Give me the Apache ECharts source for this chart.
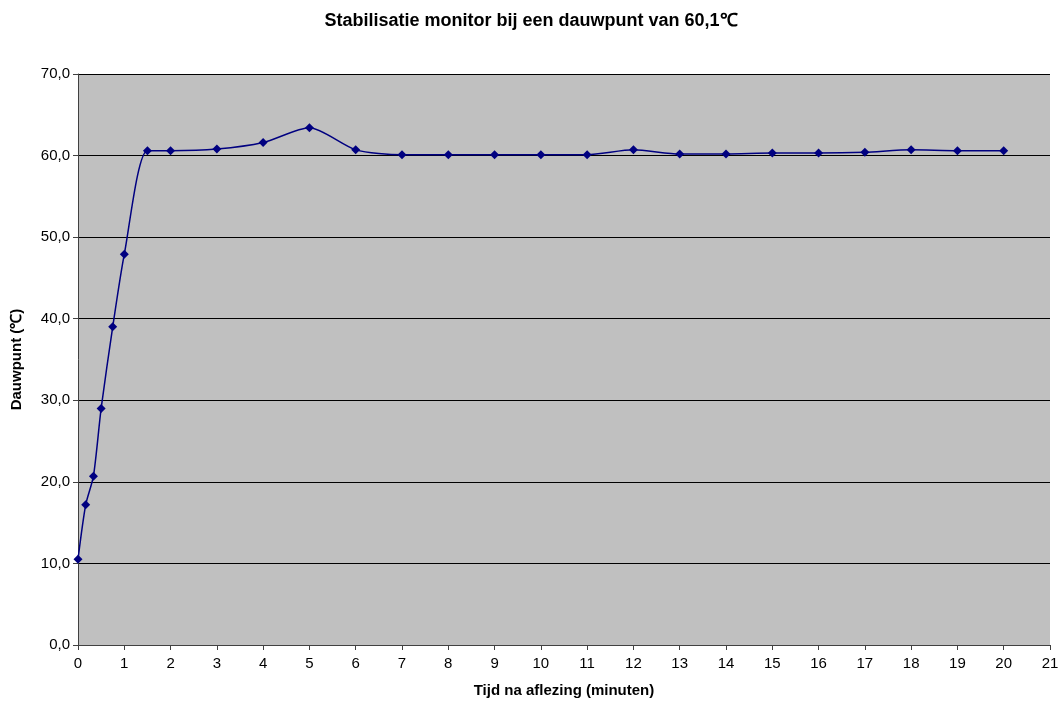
<!DOCTYPE html>
<html>
<head>
<meta charset="utf-8">
<script src="https://cdn.jsdelivr.net/npm/echarts@6/dist/echarts.min.js"></script>
<style>
  html, body { margin: 0; padding: 0; background: #ffffff; }
  #chart { width: 1062px; height: 706px; }
</style>
</head>
<body>
<div id="chart"></div>
<script>
// Tijd na aflezing (minuten)
const times = [0, 1/6, 1/3, 0.5, 0.75, 1, 1.5, 2, 3, 4, 5, 6, 7, 8, 9, 10, 11, 12, 13, 14, 15, 16, 17, 18, 19, 20];
// Dauwpunt (°C)
const dewPoints = [10.5, 17.2, 20.7, 29.0, 39.0, 47.9, 60.6, 60.6, 60.8, 61.6, 63.4, 60.7, 60.1, 60.1, 60.1, 60.1, 60.1, 60.7, 60.2, 60.2, 60.3, 60.3, 60.4, 60.7, 60.6, 60.6];

const titleText = 'Stabilisatie monitor bij een dauwpunt van 60,1\u2103';
const xName = 'Tijd na aflezing (minuten)';
const yName = 'Dauwpunt (\u2103)';

const points = times.map((t, i) => [t, dewPoints[i]]);
const font = 'Arial, "Liberation Sans", sans-serif';

const chart = echarts.init(document.getElementById('chart'), null, { renderer: 'canvas' });
chart.setOption({
  backgroundColor: '#ffffff',
  animation: false,
  title: {
    text: titleText,
    left: 'center',
    top: 7,
    textStyle: { fontFamily: font, fontSize: 18, fontWeight: 'bold', color: '#000000' }
  },
  grid: {
    left: 78, right: 12, top: 74, bottom: 61,
    show: true, backgroundColor: '#C0C0C0', borderWidth: 0
  },
  xAxis: {
    type: 'value', min: 0, max: 21, interval: 1,
    name: xName, nameLocation: 'middle', nameGap: 38,
    nameTextStyle: { fontFamily: font, fontSize: 15, fontWeight: 'bold', color: '#000000' },
    axisLine: { show: true, onZero: false, lineStyle: { color: '#404040', width: 1 } },
    axisTick: { show: true, length: 5, lineStyle: { color: '#404040' } },
    axisLabel: { fontFamily: font, fontSize: 15, color: '#000000', margin: 11 },
    splitLine: { show: false }
  },
  yAxis: {
    type: 'value', min: 0, max: 70, interval: 10,
    name: yName, nameLocation: 'middle', nameGap: 54, nameRotate: 90,
    nameTextStyle: { fontFamily: font, fontSize: 15, fontWeight: 'bold', color: '#000000' },
    axisLine: { show: true, lineStyle: { color: '#404040', width: 1 } },
    axisTick: { show: true, length: 5, lineStyle: { color: '#404040' } },
    axisLabel: {
      fontFamily: font, fontSize: 15, color: '#000000', margin: 8,
      formatter: v => v.toFixed(1).replace('.', ',')
    },
    splitLine: { show: true, lineStyle: { color: '#000000', width: 1 } }
  },
  series: [{
    type: 'line',
    data: points,
    smooth: 0.25,
    symbol: 'diamond',
    symbolSize: 9,
    lineStyle: { color: '#000080', width: 1.5 },
    itemStyle: { color: '#000080' }
  }]
});
</script>
</body>
</html>
